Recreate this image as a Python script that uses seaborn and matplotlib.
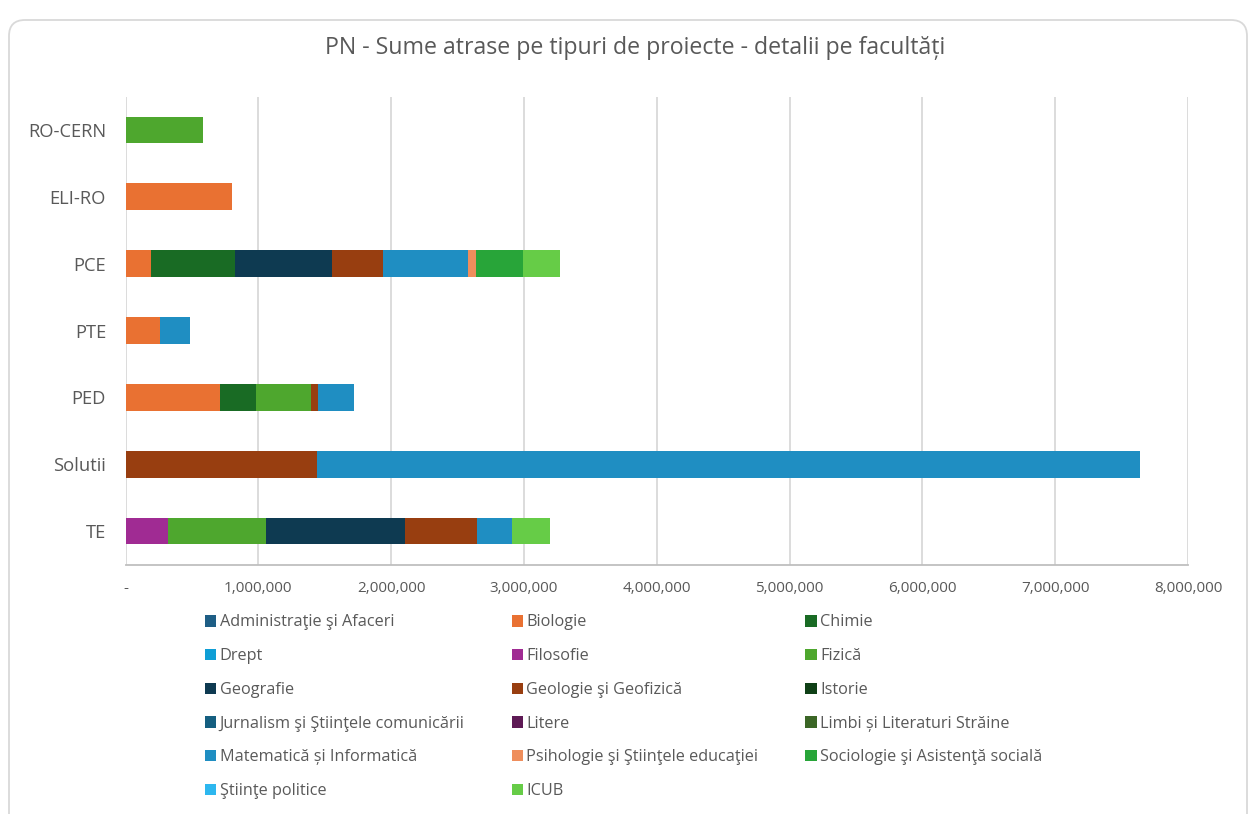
import matplotlib
matplotlib.use("Agg")
import matplotlib.pyplot as plt
import seaborn as sns
import numpy as np
from matplotlib.patches import Patch, FancyBboxPatch
from matplotlib.transforms import IdentityTransform
from matplotlib.ticker import FuncFormatter, MultipleLocator

# ---------------- data ----------------
categories = ["RO-CERN", "ELI-RO", "PCE", "PTE", "PED", "Solutii", "TE"]

faculties = [
    "Administraţie şi Afaceri", "Biologie", "Chimie",
    "Drept", "Filosofie", "Fizică",
    "Geografie", "Geologie şi Geofizică", "Istorie",
    "Jurnalism şi Ştiinţele comunicării", "Litere", "Limbi și Literaturi Străine",
    "Matematică și Informatică", "Psihologie şi Ştiinţele educaţiei", "Sociologie şi Asistenţă socială",
    "Ştiinţe politice", "ICUB",
]

administratie = [0, 0, 0, 0, 0, 0, 0]
biologie = [0, 801000, 192000, 260000, 711000, 0, 0]
chimie = [0, 0, 632000, 0, 271000, 0, 0]
drept = [0, 0, 0, 0, 0, 0, 0]
filosofie = [0, 0, 0, 0, 0, 0, 322000]
fizica = [583000, 0, 0, 0, 414000, 0, 733000]
geografie = [0, 0, 732000, 0, 0, 0, 1050000]
geologie = [0, 0, 384000, 0, 55000, 1443000, 542000]
istorie = [0, 0, 0, 0, 0, 0, 0]
jurnalism = [0, 0, 0, 0, 0, 0, 0]
litere = [0, 0, 0, 0, 0, 0, 0]
limbi = [0, 0, 0, 0, 0, 0, 0]
matematica = [0, 0, 637000, 226000, 271000, 6198000, 263000]
psihologie = [0, 0, 60000, 0, 0, 0, 0]
sociologie = [0, 0, 356000, 0, 0, 0, 0]
stiinte_politice = [0, 0, 0, 0, 0, 0, 0]
icub = [0, 0, 281000, 0, 0, 0, 284000]

series = [administratie, biologie, chimie, drept, filosofie, fizica, geografie,
          geologie, istorie, jurnalism, litere, limbi, matematica, psihologie,
          sociologie, stiinte_politice, icub]

colors = [
    "#1E5E85", "#E97132", "#196B24",
    "#0F9ED5", "#A02B93", "#4EA72E",
    "#0E3A51", "#983E10", "#0F4016",
    "#155F80", "#5E1A55", "#3B6626",
    "#1F8EC2", "#EF8E5C", "#28A539",
    "#2DB7EF", "#66CC47",
]

# ---------------- plot ----------------
sns.set_theme(style="white")
plt.rcParams["font.family"] = ["Open Sans", "DejaVu Sans"]

fig = plt.figure(figsize=(12.5, 8.14), dpi=100)
ax = fig.add_axes([125.5 / 1250, 1 - 564.5 / 814, (1188 - 125.5) / 1250, (564.5 - 96.5) / 814])

cum = np.cumsum(np.array(series, dtype=float), axis=0)
for i in reversed(range(len(series))):
    if not any(series[i]):
        continue
    sns.barplot(x=cum[i], y=categories, orient="h", color=colors[i],
                saturation=1, width=0.4, ax=ax, linewidth=0)

ax.set_xlim(0, 8e6)
ax.xaxis.set_major_locator(MultipleLocator(1e6))
ax.xaxis.set_major_formatter(FuncFormatter(lambda v, p: "-" if v == 0 else f"{v:,.0f}"))
ax.set_xlabel("")
ax.set_ylabel("")
ax.grid(axis="x", color="#D9D9D9", linewidth=1.3)
ax.grid(axis="y", visible=False)
ax.set_axisbelow(True)
for s in ["top", "right", "left"]:
    ax.spines[s].set_visible(False)
ax.spines["bottom"].set_color("#BFBFBF")
ax.spines["bottom"].set_linewidth(1.3)
ax.tick_params(axis="y", length=0, pad=14, labelsize=13.2, labelcolor="#595959")
ax.tick_params(axis="x", length=0, pad=12, labelsize=11, labelcolor="#595959")

fig.text(0.508, 1 - 48 / 814, "PN - Sume atrase pe tipuri de proiecte - detalii pe facultăți",
         ha="center", va="center", fontsize=16.7, color="#595959")

# legend, row-major order like the reference
handles = [Patch(facecolor=c, edgecolor="none", label=l) for c, l in zip(colors, faculties)]
ncol, nrow = 3, 6
ordered = []
for c in range(ncol):
    for r in range(nrow):
        k = r * ncol + c
        if k < len(handles):
            ordered.append(handles[k])
fig.legend(handles=ordered, ncol=ncol, loc="upper left",
           bbox_to_anchor=(205 / 1250, 1 - 614.5 / 814), frameon=False,
           fontsize=11.7, handlelength=0.7, handleheight=0.7, handletextpad=0.2,
           columnspacing=2.9, labelspacing=1.09, labelcolor="#595959",
           borderpad=0, borderaxespad=0)

border = FancyBboxPatch((9, -20), 1238, 824 - 10, boxstyle="round,pad=0,rounding_size=16",
                        transform=IdentityTransform(), facecolor="none",
                        edgecolor="#D9D9D9", linewidth=1.3)
fig.patches.append(border)

fig.savefig("out.png", dpi=100)
